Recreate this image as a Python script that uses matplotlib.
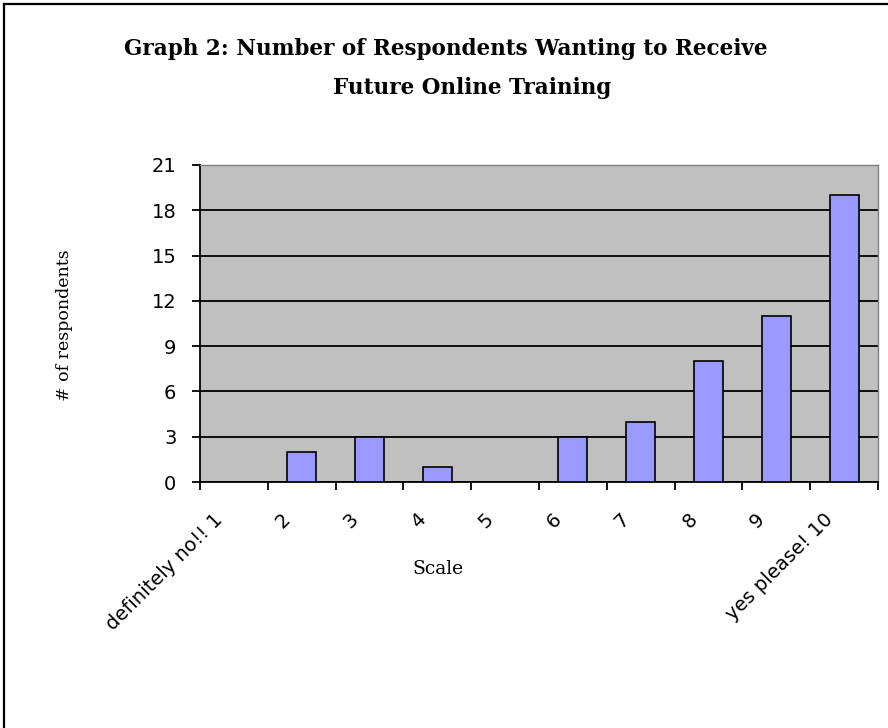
import numpy as np
import matplotlib
matplotlib.use("Agg")
import matplotlib.pyplot as plt
import matplotlib.transforms as mtransforms
from matplotlib.lines import Line2D

# data
categories = ["definitely no!! 1", "2", "3", "4", "5", "6", "7", "8", "9", "yes please! 10"]
respondents = [0, 2, 3, 1, 0, 3, 4, 8, 11, 19]
y_ticks = [0, 3, 6, 9, 12, 15, 18, 21]

W, H = 888, 728
fig = plt.figure(figsize=(W/100, H/100), dpi=100)
# only top and left edges of the frame show in the screenshot
fig.lines.append(Line2D([4/W, 4/W], [0, 1-4/H], transform=fig.transFigure, color="black", linewidth=1.6))
fig.lines.append(Line2D([4/W, 1], [1-4/H, 1-4/H], transform=fig.transFigure, color="black", linewidth=1.6))

ax = fig.add_axes([200/W, 1-482/H, 678/W, 317/H])
ax.set_facecolor("#C0C0C0")

x = np.arange(len(categories))
ax.bar(x, respondents, width=0.43, color="#9999FF", edgecolor="black", linewidth=1.2, zorder=3)

ax.set_xlim(-0.5, len(categories) - 0.5)
ax.set_ylim(0, 21)
ax.set_yticks(y_ticks)
ax.yaxis.grid(True, color="black", linewidth=1.3, zorder=1)
ax.set_axisbelow(True)

ax.set_xticks(x)
ax.set_xticks(np.arange(-0.5, len(categories)), minor=True)
ax.tick_params(axis="x", which="major", length=0, pad=20)
ax.tick_params(axis="x", which="minor", length=6, width=1.3, direction="out", color="black")
ax.tick_params(axis="y", length=6, width=1.3, direction="out", pad=11)
labels = ax.set_xticklabels(categories, rotation=45, ha="right", rotation_mode="anchor",
                            fontsize=14, family="DejaVu Sans")
offset = mtransforms.ScaledTranslation(-21/100, 0, fig.dpi_scale_trans)
for lab in labels:
    lab.set_transform(lab.get_transform() + offset)
for lab in ax.get_yticklabels():
    lab.set_fontsize(14)
    lab.set_family("DejaVu Sans")

for side in ["left", "bottom"]:
    ax.spines[side].set_color("black")
    ax.spines[side].set_linewidth(1.3)
for side in ["top", "right"]:
    ax.spines[side].set_color("#808080")
    ax.spines[side].set_linewidth(1.0)

fig.text(446/W, 1-55/H, "Graph 2: Number of Respondents Wanting to Receive",
         ha="center", va="baseline", fontsize=15.5, fontweight="bold", family="DejaVu Serif")
fig.text(472/W, 1-94/H, "Future Online Training",
         ha="center", va="baseline", fontsize=15.5, fontweight="bold", family="DejaVu Serif")
fig.text(64/W, 1-325/H, "# of respondents", rotation=90, ha="center", va="center",
         fontsize=12.5, family="DejaVu Serif")
fig.text(438/W, 1-569/H, "Scale", ha="center", va="center",
         fontsize=13.5, family="DejaVu Serif")

fig.savefig("out.png", dpi=100)
